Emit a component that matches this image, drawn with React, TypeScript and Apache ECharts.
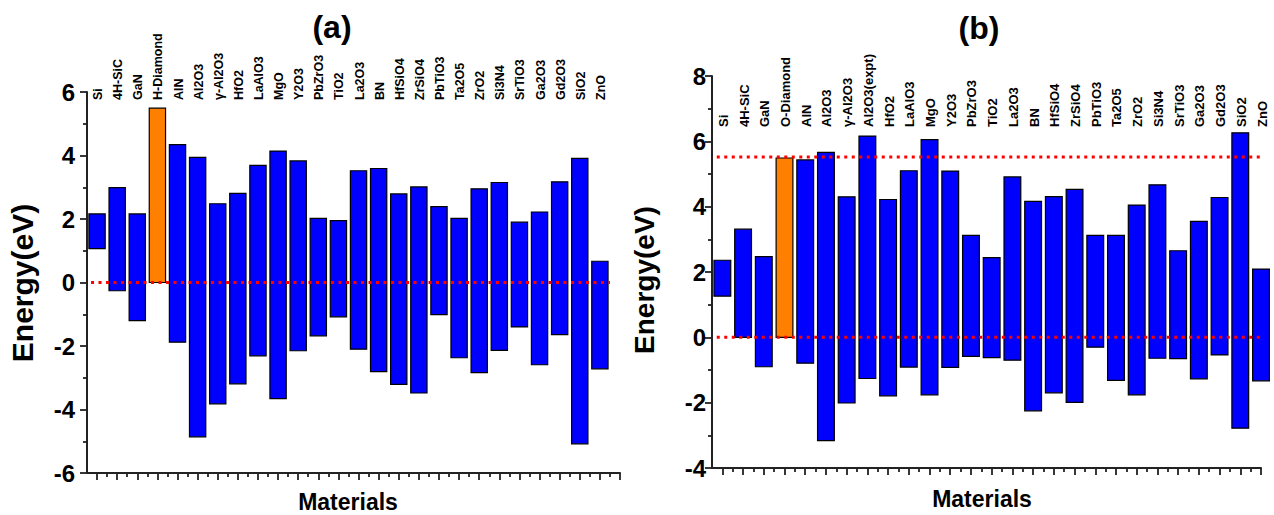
import React, { useEffect, useRef } from "react";
import * as echarts from "echarts";

// ---------- Data ----------
const namesA = ["Si", "4H-SiC", "GaN", "H-Diamond", "AlN", "Al2O3", "γ-Al2O3", "HfO2", "LaAlO3", "MgO", "Y2O3", "PbZrO3", "TiO2", "La2O3", "BN", "HfSiO4", "ZrSiO4", "PbTiO3", "Ta2O5", "ZrO2", "Si3N4", "SrTiO3", "Ga2O3", "Gd2O3", "SiO2", "ZnO"];
const topA = [2.16, 2.99, 2.16, 5.49, 4.34, 3.94, 2.48, 2.81, 3.69, 4.14, 3.83, 2.02, 1.95, 3.52, 3.59, 2.79, 3.01, 2.39, 2.02, 2.95, 3.15, 1.90, 2.22, 3.17, 3.91, 0.67];
const botA = [1.07, -0.26, -1.20, 0, -1.88, -4.86, -3.82, -3.19, -2.31, -3.66, -2.15, -1.68, -1.08, -2.10, -2.81, -3.21, -3.48, -1.01, -2.37, -2.84, -2.14, -1.40, -2.59, -1.64, -5.08, -2.72];

const namesB = ["Si", "4H-SiC", "GaN", "O-Diamond", "AlN", "Al2O3", "γ-Al2O3", "Al2O3(expt)", "HfO2", "LaAlO3", "MgO", "Y2O3", "PbZrO3", "TiO2", "La2O3", "BN", "HfSiO4", "ZrSiO4", "PbTiO3", "Ta2O5", "ZrO2", "Si3N4", "SrTiO3", "Ga2O3", "Gd2O3", "SiO2", "ZnO"];
const topB = [2.36, 3.31, 2.47, 5.49, 5.43, 5.66, 4.30, 6.16, 4.22, 5.10, 6.05, 5.09, 3.12, 2.44, 4.91, 4.16, 4.31, 4.53, 3.12, 3.12, 4.05, 4.67, 2.65, 3.55, 4.28, 6.26, 2.09];
const botB = [1.26, 0, -0.90, 0, -0.79, -3.16, -2.01, -1.26, -1.79, -0.91, -1.76, -0.92, -0.58, -0.62, -0.70, -2.25, -1.70, -1.99, -0.30, -1.32, -1.76, -0.64, -0.65, -1.27, -0.54, -2.78, -1.33];

// reference levels (eV) and their x extent (in category position units)
const refLevelsA = [0];
const refSpanA = [0.7, 26.5];
const refLevelsB = [0, 5.52];
const refSpanB = [0.73, 27.35];

const yRangeA = [-6, 6];
const yRangeB = [-4, 8];
const xRange = [0.5, 27];

const FONT = 'Arial, "Liberation Sans", Helvetica, sans-serif';
const AXIS_COLOR = "#222";
const BLUE = "#0000ff";
const ORANGE = "#ff8000";

function intTicks(n: number) {
  const a: number[] = [];
  for (let i = 1; i <= n; i++) a.push(i);
  return a;
}
function halfTicks(n: number) {
  const a: number[] = [];
  for (let i = 1; i < n; i++) a.push(i + 0.5);
  return a;
}

export default function App() {
  const ref = useRef<HTMLDivElement>(null);
  useEffect(() => {
    document.body.style.margin = "0";
    if (!ref.current) return;
    const chart = echarts.init(ref.current, null, { renderer: "svg" });

    const makeX = (gridIndex: number) => [
      {
        type: "value",
        gridIndex,
        position: "bottom",
        min: xRange[0],
        max: xRange[1],
        axisLine: { show: true, onZero: false, lineStyle: { color: AXIS_COLOR, width: 2 } },
        axisTick: { show: true, inside: false, length: 7, customValues: intTicks(27), lineStyle: { color: AXIS_COLOR, width: 1.8 } },
        axisLabel: { show: false },
        splitLine: { show: false },
      },
      {
        type: "value",
        gridIndex,
        position: "bottom",
        min: xRange[0],
        max: xRange[1],
        axisLine: { show: false, onZero: false },
        axisTick: { show: true, inside: false, length: 4, customValues: halfTicks(27), lineStyle: { color: AXIS_COLOR, width: 1.8 } },
        axisLabel: { show: false },
        splitLine: { show: false },
      },
    ];

    const makeY = (gridIndex: number, range: number[], fontSize: number, margin: number) => ({
      type: "value",
      gridIndex,
      min: range[0],
      max: range[1],
      interval: 2,
      axisLine: { show: true, onZero: false, lineStyle: { color: AXIS_COLOR, width: 2 } },
      axisTick: { show: true, inside: false, length: 7, lineStyle: { color: AXIS_COLOR, width: 1.8 } },
      minorTick: { show: true, splitNumber: 2, length: 4, lineStyle: { color: AXIS_COLOR, width: 1.8 } },
      axisLabel: { show: true, margin, fontSize, fontWeight: "bold", fontFamily: FONT, color: "#000" },
      splitLine: { show: false },
      minorSplitLine: { show: false },
    });

    const makeBars = (names: string[], tops: number[], bots: number[], xAxisIndex: number, yAxisIndex: number, yMax: number, labelOffset: number, labelSize: number) => ({
      type: "custom",
      xAxisIndex,
      yAxisIndex,
      clip: false,
      encode: { x: 0, y: [1, 2] },
      data: names.map((n, i) => [i + 1, bots[i], tops[i]]),
      renderItem: (params: any, api: any) => {
        const x = api.value(0);
        const lo = api.value(1);
        const hi = api.value(2);
        const pHi = api.coord([x, hi]);
        const pLo = api.coord([x, lo]);
        const w = api.size([0.81, 0])[0];
        const name = names[params.dataIndex];
        const pTop = api.coord([x, yMax]);
        return {
          type: "group",
          children: [
            {
              type: "rect",
              shape: { x: pHi[0] - w / 2, y: pHi[1], width: w, height: pLo[1] - pHi[1] },
              style: { fill: name.indexOf("Diamond") >= 0 ? ORANGE : BLUE, stroke: "#000", lineWidth: 1.2 },
            },
            {
              type: "text",
              x: pHi[0] + 1,
              y: pTop[1] + labelOffset,
              rotation: Math.PI / 2,
              style: {
                text: name,
                fill: "#000",
                font: `bold ${labelSize}px ${FONT}`,
                align: "left",
                verticalAlign: "middle",
              },
            },
          ],
        };
      },
    });

    const makeRefLines = (levels: number[], span: number[], xAxisIndex: number, yAxisIndex: number) =>
      levels.map((lv) => ({
        type: "line",
        xAxisIndex,
        yAxisIndex,
        clip: false,
        symbol: "none",
        silent: true,
        data: [
          [span[0], lv],
          [span[1], lv],
        ],
        lineStyle: { color: "#ff0000", width: 3, type: [3, 4.5], cap: "butt" },
        z: 5,
      }));

    const textStyle = (size: number) => ({ fontSize: size, fontWeight: "bold", fontFamily: FONT, fill: "#000" });

    chart.setOption({
      animation: false,
      backgroundColor: "#ffffff",
      grid: [
        { left: 87, top: 92, width: 533, height: 381, containLabel: false },
        { left: 712, top: 76, width: 549, height: 392, containLabel: false },
      ],
      xAxis: [...makeX(0), ...makeX(1)],
      yAxis: [makeY(0, yRangeA, 24, 12), makeY(1, yRangeB, 24, 6)],
      series: [
        makeBars(namesA, topA, botA, 0, 0, yRangeA[1], 8, 12.5),
        makeBars(namesB, topB, botB, 2, 1, yRangeB[1], 51, 13),
        ...makeRefLines(refLevelsA, refSpanA, 0, 0),
        ...makeRefLines(refLevelsB, refSpanB, 2, 1),
      ],
      graphic: [
        { type: "text", x: 332, y: 27, style: { ...textStyle(32), text: "(a)", align: "center", verticalAlign: "middle" } },
        { type: "text", x: 979, y: 28, style: { ...textStyle(32), text: "(b)", align: "center", verticalAlign: "middle" } },
        { type: "text", x: 22, y: 283, rotation: Math.PI / 2, style: { ...textStyle(30), text: "Energy(eV)", align: "center", verticalAlign: "middle" } },
        { type: "text", x: 644, y: 280, rotation: Math.PI / 2, style: { ...textStyle(28), text: "Energy(eV)", align: "center", verticalAlign: "middle" } },
        { type: "text", x: 348, y: 502, style: { ...textStyle(23), text: "Materials", align: "center", verticalAlign: "middle" } },
        { type: "text", x: 982, y: 499, style: { ...textStyle(23), text: "Materials", align: "center", verticalAlign: "middle" } },
      ],
    });

    return () => chart.dispose();
  }, []);

  return <div ref={ref} style={{ width: 1274, height: 515 }} />;
}
